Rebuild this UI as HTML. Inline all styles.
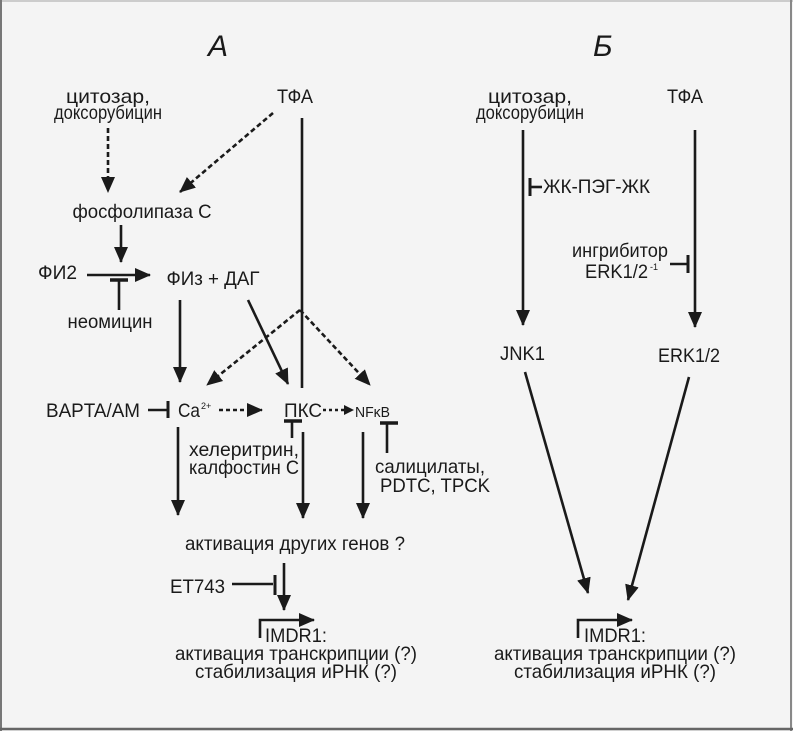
<!DOCTYPE html>
<html><head><meta charset="utf-8"><style>
html,body{margin:0;padding:0;background:#f4f4f4}
svg{display:block}
text{font-family:"Liberation Sans Narrow","Liberation Sans",sans-serif;font-size:19.5px;fill:#1a1a1a}
</style></head><body>
<svg width="793" height="731" viewBox="0 0 793 731" xmlns="http://www.w3.org/2000/svg">
<defs>
<marker id="ah" markerWidth="10" markerHeight="10" refX="9" refY="5" orient="auto" markerUnits="userSpaceOnUse" viewBox="0 0 10 10">
<path d="M0,0 L10,5 L0,10 z" fill="#1a1a1a"/></marker>
<marker id="ahb" markerWidth="16" markerHeight="16" refX="15" refY="8" orient="auto" markerUnits="userSpaceOnUse" viewBox="0 0 16 16">
<path d="M0,1 L16,8 L0,15 z" fill="#1a1a1a"/></marker>
</defs>
<rect x="0" y="0" width="793" height="731" fill="#f4f4f4"/>
<line x1="0" y1="1" x2="793" y2="1" stroke="#ccc" stroke-width="2"/>
<line x1="1" y1="0" x2="1" y2="731" stroke="#777" stroke-width="2"/>
<line x1="791" y1="0" x2="791" y2="731" stroke="#888" stroke-width="2"/>
<line x1="0" y1="729" x2="793" y2="729" stroke="#666" stroke-width="2.5"/>
<g stroke="#1a1a1a" stroke-width="2.6" fill="none">
<line x1="108" y1="128" x2="108" y2="192" stroke-dasharray="5,3" marker-end="url(#ahb)"/>
<line x1="273" y1="113" x2="180" y2="192" stroke-dasharray="5,3" marker-end="url(#ahb)"/>
<line x1="121" y1="225" x2="121" y2="262" marker-end="url(#ahb)"/>
<line x1="87" y1="275" x2="150" y2="275" marker-end="url(#ahb)"/>
<line x1="110" y1="280" x2="128" y2="280" stroke-width="3.5"/>
<line x1="119" y1="280" x2="119" y2="310"/>
<line x1="302" y1="118" x2="302" y2="388"/>
<line x1="180" y1="300" x2="180" y2="382" marker-end="url(#ahb)"/>
<line x1="248" y1="300" x2="288" y2="384" marker-end="url(#ahb)"/>
<line x1="300" y1="310" x2="207" y2="385" stroke-dasharray="5,3" marker-end="url(#ahb)"/>
<line x1="300" y1="310" x2="370" y2="385" stroke-dasharray="5,3" marker-end="url(#ahb)"/>
<line x1="148" y1="410" x2="168" y2="410"/>
<line x1="168" y1="401" x2="168" y2="418" stroke-width="3"/>
<line x1="219" y1="410" x2="262" y2="410" stroke-dasharray="4,3" marker-end="url(#ahb)"/>
<line x1="323" y1="410" x2="353" y2="410" stroke-dasharray="3,3" marker-end="url(#ah)"/>
<line x1="284" y1="421" x2="302" y2="421" stroke-width="3.5"/>
<line x1="292" y1="421" x2="292" y2="438"/>
<line x1="178" y1="427" x2="178" y2="515" marker-end="url(#ahb)"/>
<line x1="303" y1="432" x2="303" y2="518" marker-end="url(#ahb)"/>
<line x1="363" y1="432" x2="363" y2="518" marker-end="url(#ahb)"/>
<line x1="380" y1="423" x2="398" y2="423" stroke-width="3.5"/>
<line x1="387" y1="423" x2="387" y2="453"/>
<line x1="232" y1="584" x2="273" y2="584"/>
<line x1="275" y1="575" x2="275" y2="595" stroke-width="3"/>
<line x1="284" y1="563" x2="284" y2="610" marker-end="url(#ahb)"/>
<polyline points="260,638 260,620 314,620" marker-end="url(#ahb)"/>
<line x1="523" y1="130" x2="523" y2="325" marker-end="url(#ahb)"/>
<line x1="695" y1="130" x2="695" y2="327" marker-end="url(#ahb)"/>
<line x1="530" y1="178" x2="530" y2="196" stroke-width="3"/>
<line x1="530" y1="187" x2="542" y2="187"/>
<line x1="670" y1="264" x2="688" y2="264"/>
<line x1="688" y1="255" x2="688" y2="273" stroke-width="3"/>
<line x1="525" y1="372" x2="588" y2="593" marker-end="url(#ahb)"/>
<line x1="689" y1="377" x2="628" y2="600" marker-end="url(#ahb)"/>
<polyline points="578,638 578,620 632,620" marker-end="url(#ahb)"/>
</g>
<text x="208" y="56" style="font-size:30px;font-style:italic">А</text>
<text x="593" y="56" style="font-size:30px;font-style:italic">Б</text>
<g text-anchor="middle">
<text x="108" y="103" textLength="84" lengthAdjust="spacingAndGlyphs">цитозар,</text>
<text x="108" y="119" textLength="108" lengthAdjust="spacingAndGlyphs">доксорубицин</text>
<text x="295" y="103" textLength="36" lengthAdjust="spacingAndGlyphs">ТФА</text>
<text x="142" y="218" textLength="139" lengthAdjust="spacingAndGlyphs">фосфолипаза С</text>
<text x="110" y="328" textLength="85" lengthAdjust="spacingAndGlyphs">неомицин</text>
<text x="213" y="285" textLength="93" lengthAdjust="spacingAndGlyphs">ФИз + ДАГ</text>
<text x="295" y="550" textLength="220" lengthAdjust="spacingAndGlyphs">активация других генов ?</text>
<text x="296" y="660" textLength="242" lengthAdjust="spacingAndGlyphs">активация транскрипции (?)</text>
<text x="296" y="678" textLength="202" lengthAdjust="spacingAndGlyphs">стабилизация иРНК (?)</text>
<text x="530" y="103" textLength="84" lengthAdjust="spacingAndGlyphs">цитозар,</text>
<text x="530" y="119" textLength="108" lengthAdjust="spacingAndGlyphs">доксорубицин</text>
<text x="685" y="103" textLength="36" lengthAdjust="spacingAndGlyphs">ТФА</text>
<text x="615" y="660" textLength="242" lengthAdjust="spacingAndGlyphs">активация транскрипции (?)</text>
<text x="615" y="678" textLength="202" lengthAdjust="spacingAndGlyphs">стабилизация иРНК (?)</text>
</g>
<text x="38" y="279" textLength="39" lengthAdjust="spacingAndGlyphs">ФИ2</text>
<text x="46" y="417" textLength="94" lengthAdjust="spacingAndGlyphs">BAPTA/AM</text>
<text x="178" y="417" textLength="22" lengthAdjust="spacingAndGlyphs">Ca</text>
<text x="201" y="409" style="font-size:9px">2+</text>
<text x="284" y="417" textLength="38" lengthAdjust="spacingAndGlyphs">ПКС</text>
<text x="355" y="417" style="font-size:15px" textLength="35" lengthAdjust="spacingAndGlyphs">NFκB</text>
<text x="189" y="456" textLength="110" lengthAdjust="spacingAndGlyphs">хелеритрин,</text>
<text x="189" y="474" textLength="110" lengthAdjust="spacingAndGlyphs">калфостин С</text>
<text x="375" y="473" textLength="110" lengthAdjust="spacingAndGlyphs">салицилаты,</text>
<text x="380" y="492" textLength="110" lengthAdjust="spacingAndGlyphs">PDTC, TPCK</text>
<text x="170" y="593" textLength="55" lengthAdjust="spacingAndGlyphs">ET743</text>
<text x="265" y="642" textLength="62" lengthAdjust="spacingAndGlyphs">IMDR1:</text>
<text x="543" y="193" textLength="107" lengthAdjust="spacingAndGlyphs">ЖК-ПЭГ-ЖК</text>
<text x="572" y="257" textLength="96" lengthAdjust="spacingAndGlyphs">ингрибитор</text>
<text x="585" y="278" textLength="63" lengthAdjust="spacingAndGlyphs">ERK1/2</text>
<text x="650" y="270" style="font-size:9px">-1</text>
<text x="500" y="360" textLength="45" lengthAdjust="spacingAndGlyphs">JNK1</text>
<text x="658" y="362" textLength="62" lengthAdjust="spacingAndGlyphs">ERK1/2</text>
<text x="584" y="642" textLength="62" lengthAdjust="spacingAndGlyphs">IMDR1:</text>
</svg>
</body></html>
